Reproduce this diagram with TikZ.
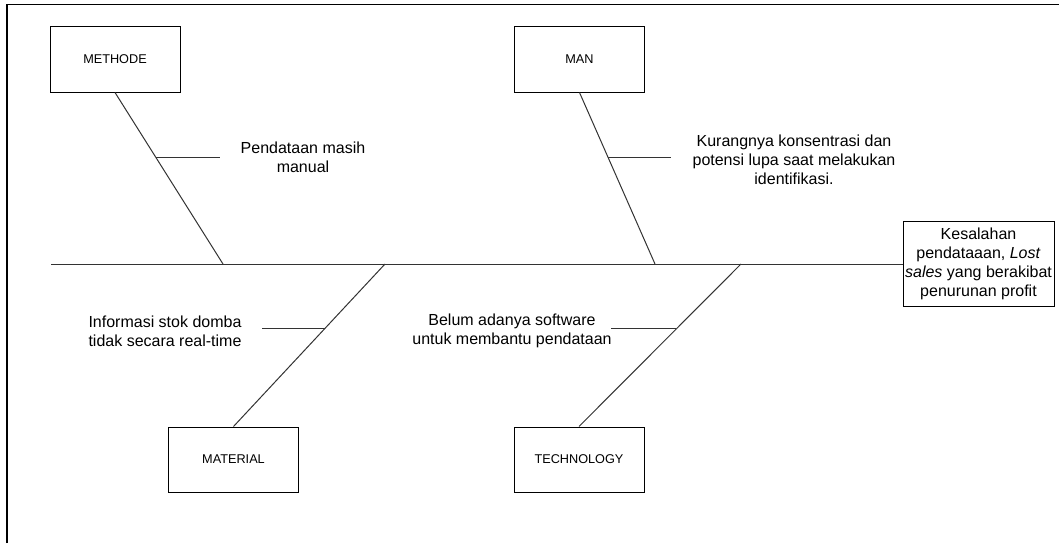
\documentclass[tikz,border=0pt]{standalone}
\usepackage{fontspec}
\setmainfont{Liberation Sans}
\usetikzlibrary{calc}
\definecolor{boneGray}{HTML}{333333}

\begin{document}
\begin{tikzpicture}[x=1pt, y=-1pt,
    catbox/.style={draw=black, line width=1pt, minimum width=130pt, minimum height=65pt, inner sep=0pt, font=\fontsize{12.7}{15}\selectfont},
    effectbox/.style={draw=black, line width=1pt, minimum width=151pt, minimum height=85pt, inner sep=1pt, align=center, font=\fontsize{16}{19}\selectfont},
    note/.style={align=center, inner sep=0pt, font=\fontsize{16}{19}\selectfont},
    bone/.style={draw=boneGray, line width=1pt}]
    \useasboundingbox (0,0) rectangle (1059,543);

    % Frame
    \draw[line width=1.6pt] (7,543) -- (7,4.5) -- (1059,4.5);

    % Categories
    \node[catbox] (methode) at (115,59.5) {METHODE};
    \node[catbox] (man) at (579.5,59.5) {MAN};
    \node[catbox] (material) at (233.5,459.5) {MATERIAL};
    \node[catbox] (technology) at (579,459.5) {TECHNOLOGY};

    % Effect
    \node[effectbox] (effect) at (978.5,264) {Kesalahan\\pendataaan, \textit{Lost}\\\textit{sales} yang berakibat\\penurunan profit};

    % Spine
    \coordinate (tail) at (51,264);
    \draw[bone] (tail) -- (effect.west);

    % Bones
    \coordinate (jMethode) at (223,264);
    \coordinate (jMan) at (655,264);
    \coordinate (jMaterial) at (385,264);
    \coordinate (jTech) at (741,264);
    \draw[bone] (methode.south) -- (jMethode);
    \draw[bone] (man.south) -- (jMan);
    \draw[bone] (material.north) -- (jMaterial);
    \draw[bone] (technology.north) -- (jTech);

    % Causes
    \coordinate (sMethode) at ($(methode.south)!0.378!(jMethode)$);
    \coordinate (sMan) at ($(man.south)!0.378!(jMan)$);
    \coordinate (sMaterial) at ($(jMaterial)!0.399!(material.north)$);
    \coordinate (sTech) at ($(jTech)!0.399!(technology.north)$);
    \coordinate (eMethode) at ($(sMethode)+(64,0)$);
    \coordinate (eMan) at ($(sMan)+(63,0)$);
    \coordinate (eMaterial) at ($(sMaterial)+(-63,0)$);
    \coordinate (eTech) at ($(sTech)+(-65,0)$);
    \draw[bone] (sMethode) -- (eMethode);
    \draw[bone] (sMan) -- (eMan);
    \draw[bone] (sMaterial) -- (eMaterial);
    \draw[bone] (sTech) -- (eTech);

    \node[note] (nMethode) at (303,157) {Pendataan masih\\manual};
    \node[note] (nMan) at (794,160) {Kurangnya konsentrasi dan\\potensi lupa saat melakukan\\identifikasi.};
    \node[note] (nMaterial) at (165,331) {Informasi stok domba\\tidak secara real-time};
    \node[note] (nTech) at (512,331) {Belum adanya software\\untuk membantu pendataan};
\end{tikzpicture}
\end{document}
